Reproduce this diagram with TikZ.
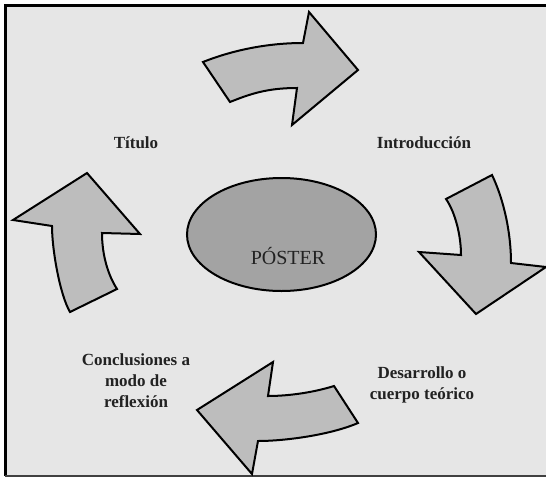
\documentclass[tikz,border=0pt]{standalone}
\usepackage{fontspec}
\usetikzlibrary{shapes.geometric}
\setmainfont{Liberation Serif}
\definecolor{bggray}{HTML}{E6E6E6}
\definecolor{arrowgray}{HTML}{BDBDBD}
\definecolor{ellgray}{HTML}{A3A3A3}
\definecolor{txtgray}{HTML}{222222}
\begin{document}
\begin{tikzpicture}[x=1pt,y=-1pt,
  arrowshape/.style={draw=black,line width=2pt,fill=arrowgray,line join=miter},
  lbl/.style={text=txtgray,font=\fontsize{17}{21}\selectfont\bfseries,align=center,inner sep=0pt}]
\useasboundingbox (0,0) rectangle (546,477);
% frame
\fill[white] (0,0) rectangle (546,477);
\fill[bggray] (5,5) rectangle (546,476);
\draw[black,line width=3pt] (4,5.5) -- (546,5.5);
\draw[black,line width=2.5pt] (5.5,4) -- (5.5,476);
\draw[black!75,line width=2pt] (5,476) -- (546,476);
% top arrow
\draw[arrowshape] (203,62) .. controls (233,50) and (268,43) .. (303,43)
  -- (309,12) -- (358,70) -- (292,125) -- (297,88)
  .. controls (267,88) and (250,94) .. (230,102) -- cycle;
% right arrow
\draw[arrowshape] (492,175) .. controls (504,200) and (511,233) .. (511,263)
  -- (546,267) -- (476,314) -- (419,252) -- (461,255)
  .. controls (461,235) and (455,212) .. (446,199) -- cycle;
% bottom arrow
\draw[arrowshape] (334,386) .. controls (315,392) and (290,396) .. (268,396)
  -- (273,362) -- (197,410) -- (252,474) -- (258,441)
  .. controls (285,441) and (330,435) .. (358,423) -- cycle;
% left arrow
\draw[arrowshape] (70,312) .. controls (60,295) and (52,250) .. (52,226)
  -- (13,220) -- (87,173) -- (140,234) -- (102,233)
  .. controls (102,255) and (108,275) .. (117,289) -- cycle;
% central ellipse
\node[draw=black,line width=2pt,fill=ellgray,ellipse,minimum width=189pt,minimum height=113pt,inner sep=0pt] (poster) at (281.5,234.5) {};
\node[text=txtgray,font=\fontsize{20}{24}\selectfont,inner sep=0pt] (postertxt) at (288,256) {PÓSTER};
% labels
\node[lbl] (titulo) at (136,143) {Título};
\node[lbl] (intro) at (424,143) {Introducción};
\node[lbl] (desarrollo) at (422,385) {Desarrollo o\\cuerpo teórico};
\node[lbl] (concl) at (136,381) {Conclusiones a\\modo de\\reflexión};
\end{tikzpicture}
\end{document}
